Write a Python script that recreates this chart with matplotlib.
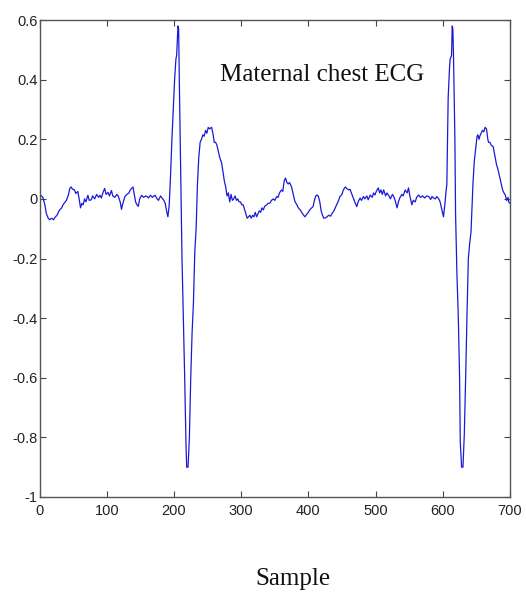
import matplotlib
matplotlib.use("Agg")
import matplotlib.pyplot as plt

samples = [0, 3, 5, 8, 10, 13, 15, 18, 21, 23, 26, 28, 30, 33, 35, 37, 40, 43, 45, 47, 49,
           52, 54, 57, 59, 61, 63, 65, 67, 69, 72, 74, 77, 79, 82, 85, 88, 90, 92, 95, 97,
           99, 102, 104, 107, 109, 112, 115, 117, 120, 122, 124, 127, 130, 133, 135, 137,
           139, 141, 143, 145, 147, 149, 152, 155, 158, 160, 162, 165, 168, 170, 172, 175,
           177, 180, 182, 185, 187, 189, 191, 193, 195, 197, 199, 201, 203, 204, 206, 207,
           208, 210, 212, 214, 216, 218, 219, 221, 223, 225, 227, 229, 231, 233, 235, 237,
           239, 241, 243, 245, 247, 249, 251, 253, 256, 258, 260, 262, 264, 266, 268, 271,
           273, 275, 277, 279, 281, 283, 285, 287, 289, 291, 293, 295, 297, 299, 301, 303,
           305, 307, 309, 311, 313, 315, 317, 319, 321, 323, 325, 327, 329, 331, 333, 335,
           338, 340, 343, 345, 348, 350, 353, 355, 357, 360, 362, 364, 366, 368, 370, 372,
           375, 377, 380, 383, 385, 388, 390, 393, 395, 398, 400, 402, 405, 407, 409, 411,
           413, 415, 417, 419, 421, 423, 425, 428, 430, 433, 435, 438, 440, 443, 445, 447,
           450, 452, 455, 457, 460, 462, 464, 467, 469, 472, 474, 477, 479, 482, 484, 487,
           489, 492, 495, 497, 499, 501, 504, 506, 508, 510, 512, 515, 517, 520, 522, 525,
           527, 529, 532, 534, 536, 539, 541, 544, 547, 549, 551, 554, 556, 559, 561, 564,
           567, 570, 573, 576, 579, 582, 584, 586, 589, 591, 594, 596, 598, 600, 601, 603,
           605, 606, 607, 608, 610, 611, 613, 614, 615, 616, 618, 619, 621, 623, 625, 626,
           628, 630, 632, 634, 636, 638, 640, 642, 644, 645, 647, 649, 651, 652, 654, 655,
           657, 659, 661, 663, 665, 667, 668, 670, 672, 675, 677, 680, 682, 685, 687, 689,
           691, 693, 695, 697, 698, 700]

ecg = [0.013, 0.01, 0.005, -0.02, -0.048, -0.065, -0.07, -0.065, -0.07, -0.062, -0.055,
       -0.045, -0.037, -0.03, -0.02, -0.014, -0.005, 0.013, 0.035, 0.04, 0.033,
       0.03, 0.018, 0.025, 0.0, -0.03, -0.015, -0.02, 0.0, -0.01, 0.012, -0.005, -0.003,
       0.01, 0.0, 0.015, 0.005, 0.012, 0.003, 0.025, 0.035,
       0.015, 0.022, 0.01, 0.028, 0.01, 0.005, 0.015, 0.01, -0.01, -0.035, -0.015, 0.007,
       0.015, 0.02, 0.03, 0.035,
       0.04, 0.015, -0.01, -0.02, -0.025, 0.0, 0.012, 0.005, 0.01, 0.008, 0.003, 0.012,
       0.005, 0.01, 0.012, 0.0,
       -0.005, 0.01, 0.004, -0.005, -0.015, -0.04, -0.06, -0.02, 0.08, 0.2, 0.3, 0.4,
       0.47, 0.48, 0.58, 0.57,
       0.4, 0.1, -0.2, -0.4, -0.6, -0.83, -0.9, -0.9, -0.8, -0.6, -0.45, -0.35, -0.18,
       -0.1, 0.05, 0.14,
       0.19, 0.2, 0.215, 0.21, 0.23, 0.22, 0.24, 0.235, 0.24, 0.22, 0.19, 0.19, 0.18,
       0.16, 0.14, 0.12,
       0.09, 0.06, 0.04, 0.01, 0.02, -0.01, 0.015, -0.005, 0.0, 0.01, -0.005, 0.0, -0.01,
       -0.01, -0.02, -0.02,
       -0.035, -0.05, -0.065, -0.06, -0.055, -0.065, -0.055, -0.06, -0.045, -0.06, -0.05,
       -0.04, -0.045, -0.03, -0.037, -0.025,
       -0.02, -0.015, -0.014, -0.005, 0.0, -0.005, 0.008, 0.005, 0.02, 0.03, 0.025, 0.06,
       0.07, 0.055, 0.05, 0.055,
       0.04, 0.02, -0.009, -0.02, -0.03, -0.037, -0.045, -0.055, -0.06, -0.05, -0.045,
       -0.037, -0.03, -0.026, -0.005, 0.01,
       0.013, 0.008, -0.01, -0.04, -0.055, -0.065, -0.064, -0.06, -0.055, -0.058, -0.05,
       -0.04, -0.03, -0.015, -0.005, 0.008,
       0.015, 0.03, 0.04, 0.035, 0.03, 0.032, 0.02, 0.003, -0.01, -0.026, -0.01, 0.003,
       -0.005, 0.008, 0.0, 0.01,
       -0.003, 0.013, 0.005, 0.02, 0.013, 0.025, 0.037, 0.02, 0.03, 0.015, 0.03, 0.01,
       0.02, 0.01, 0.0, 0.015,
       0.008, -0.005, -0.03, -0.01, 0.003, 0.015, 0.01, 0.03, 0.02, 0.037, 0.01, -0.02,
       -0.005, -0.01, 0.005, 0.013,
       0.005, 0.01, 0.003, 0.01, 0.008, -0.002, 0.008, 0.003, 0.0, 0.008, 0.0, -0.01,
       -0.03, -0.05, -0.06, -0.02,
       0.03, 0.047, 0.2, 0.34, 0.44, 0.47, 0.48, 0.58, 0.57, 0.47, 0.2, -0.05, -0.25,
       -0.39, -0.6, -0.815,
       -0.9, -0.9, -0.79, -0.6, -0.39, -0.2, -0.15, -0.11, 0.0, 0.057, 0.13, 0.17, 0.21,
       0.215, 0.2, 0.21,
       0.22, 0.23, 0.225, 0.24, 0.235, 0.2, 0.19, 0.19, 0.18, 0.175, 0.15, 0.114, 0.1,
       0.07, 0.05, 0.03,
       0.02, 0.013, -0.005, 0.005, -0.01, -0.015]

xticks = [0, 100, 200, 300, 400, 500, 600, 700]
yticks = [-1, -0.8, -0.6, -0.4, -0.2, 0, 0.2, 0.4, 0.6]
yticklabels = ["-1", "-0.8", "-0.6", "-0.4", "-0.2", "0", "0.2", "0.4", "0.6"]
title_text = "Maternal chest ECG"
xlabel_text = "Sample"

fig = plt.figure(figsize=(5.26, 5.94), dpi=100)
ax = fig.add_axes([0.0751, 0.1633, 0.8945, 0.803])
ax.plot(samples, ecg, color="#1a1ad6", lw=0.9)
ax.set_xlim(0, 700)
ax.set_ylim(-1, 0.6)
ax.set_xticks(xticks)
ax.set_xticklabels([str(t) for t in xticks])
ax.set_yticks(yticks)
ax.set_yticklabels(yticklabels)
for lab in ax.get_xticklabels() + ax.get_yticklabels():
    lab.set_fontfamily("Liberation Sans")
    lab.set_fontsize(10.5)
    lab.set_color("#222222")
ax.tick_params(direction="in", length=4, width=0.8, color="#444444",
               top=True, right=True)
ax.tick_params(axis="x", pad=5)
ax.tick_params(axis="y", pad=1.5)
for s in ax.spines.values():
    s.set_color("#555555")
    s.set_linewidth(1.0)

ax.text(322.5 / 526, 1 - 81 / 594, title_text, transform=fig.transFigure,
        ha="center", va="baseline",
        family="Liberation Serif", fontsize=18, color="#111111")
fig.text(293 / 526, 1 - 585 / 594, xlabel_text, ha="center", va="baseline",
         family="Liberation Serif", fontsize=18, color="#111111")

fig.savefig("out.png", dpi=100)
